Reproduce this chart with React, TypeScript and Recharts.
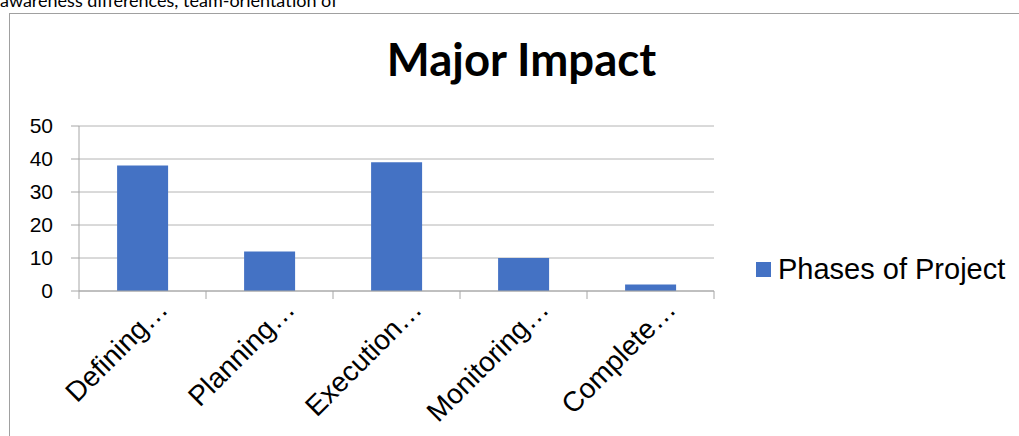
import { BarChart, Bar, XAxis, YAxis, CartesianGrid } from "recharts";

const categories = ["Defining…", "Planning…", "Execution…", "Monitoring…", "Complete…"];
const phaseValues = [38, 12, 39, 10, 2];
const yTicks = [0, 10, 20, 30, 40, 50];
const seriesName = "Phases of Project";

const data = categories.map((name, i) => ({ name, phases: phaseValues[i] }));

const BAR_COLOR = "#4472C4";
const AXIS_COLOR = "#a6a6a6";
const GRID_COLOR = "#b4b4b4";

// category label rotated -45deg, plus the tick marks at the band edges (like Excel)
const AngledTick = (props: any) => {
  const { x, y, payload, index } = props;
  const half = payload.offset || 0;
  const isLast = index === categories.length - 1;
  return (
    <g>
      <line x1={x - half} x2={x - half} y1={y} y2={y + 8} stroke={AXIS_COLOR} />
      {isLast && <line x1={x + half} x2={x + half} y1={y} y2={y + 8} stroke={AXIS_COLOR} />}
      <g transform={`translate(${x + 27},${y + 20})`}>
        <text
          transform="rotate(-45)"
          textAnchor="end"
          fontSize={28}
          fontFamily="'Liberation Sans', Arial, sans-serif"
          fill="#000"
        >
          {payload.value}
        </text>
      </g>
    </g>
  );
};

export default function App() {
  return (
    <div style={{ position: "absolute", left: 0, top: 0, width: 1019, height: 436, overflow: "hidden", background: "#fff" }}>
      <div
        style={{
          position: "absolute",
          left: 0,
          top: -12,
          fontFamily: "Lato, 'Open Sans', sans-serif",
          fontSize: 18,
          lineHeight: "24px",
          color: "#000",
          whiteSpace: "nowrap",
        }}
      >
        awareness differences, team-orientation of
      </div>
      <div
        style={{
          position: "absolute",
          left: 9,
          top: 13,
          width: 1100,
          height: 500,
          border: "1.5px solid #a0a0a0",
        }}
      />
      <div
        style={{
          position: "absolute",
          left: 0,
          width: 1043,
          top: 33,
          textAlign: "center",
          fontFamily: "Lato, 'Open Sans', sans-serif",
          fontWeight: 700,
          fontSize: 45.5,
          lineHeight: "52px",
          color: "#000",
        }}
      >
        Major Impact
      </div>
      <div
        style={{
          position: "absolute",
          left: 756,
          top: 253,
          display: "flex",
          alignItems: "center",
          fontFamily: "'Liberation Sans', Arial, sans-serif",
          fontSize: 29,
          color: "#000",
          whiteSpace: "nowrap",
        }}
      >
        <span style={{ width: 15, height: 15, background: BAR_COLOR, display: "inline-block", marginRight: 7 }} />
        <span>{seriesName}</span>
      </div>
      <div style={{ position: "absolute", left: 0, top: 0 }}>
        <BarChart
          width={1019}
          height={436}
          data={data}
          margin={{ top: 126, right: 305, left: 0, bottom: 5 }}
          barCategoryGap="30%"
        >
          <CartesianGrid vertical={false} stroke={GRID_COLOR} />
          <XAxis
            dataKey="name"
            height={140}
            axisLine={{ stroke: AXIS_COLOR }}
            tickLine={false}
            tickSize={0}
            tickMargin={0}
            interval={0}
            tick={<AngledTick />}
          />
          <YAxis
            width={79}
            domain={[0, 50]}
            ticks={yTicks}
            interval={0}
            tickSize={8}
            tickMargin={18}
            axisLine={{ stroke: AXIS_COLOR }}
            tickLine={{ stroke: AXIS_COLOR }}
            tick={{ fill: "#000", fontSize: 21, fontFamily: "'Liberation Sans', Arial, sans-serif" }}
          />
          <Bar dataKey="phases" name={seriesName} fill={BAR_COLOR} isAnimationActive={false} />
        </BarChart>
      </div>
    </div>
  );
}
